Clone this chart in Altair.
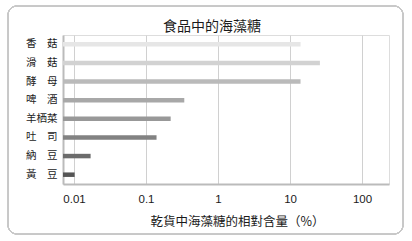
import altair as alt
import pandas as pd

# Trehalose content of dried foods (% of dry weight), log scale
foods = ["香\u3000菇", "滑\u3000菇", "酵\u3000母", "啤\u3000酒", "羊栖菜", "吐\u3000司", "納\u3000豆", "黃\u3000豆"]
content = [14.0, 26.0, 14.0, 0.34, 0.22, 0.14, 0.017, 0.0102]
shades = ["#e6e6e6", "#d2d2d2", "#bababa", "#a8a8a8", "#989898", "#828282", "#6c6c6c", "#555555"]
ticks = [0.01, 0.1, 1, 10, 100]
x_domain = [0.00703, 237]

df = pd.DataFrame({"food": foods, "value": content, "shade": shades})
df["base"] = x_domain[0]

FONT = "Liberation Sans, Noto Sans CJK TC"

bars = alt.Chart(df).mark_bar(size=4.5).encode(
    y=alt.Y("food:N", sort=foods, title=None,
            axis=alt.Axis(ticks=False, labelPadding=6, labelFontSize=10.5,
                          labelColor="#1a1a1a", labelFont="Noto Sans CJK TC",
                          domainColor="#bbbbbb", domainWidth=2, grid=False)),
    x=alt.X("value:Q",
            scale=alt.Scale(type="log", domain=x_domain, nice=False),
            title="乾貨中海藻糖的相對含量（%）",
            axis=alt.Axis(values=ticks, format="~g", ticks=False, labelPadding=9,
                          labelFontSize=11.5, labelColor="#1a1a1a", labelFont=FONT,
                          titleFont="Noto Sans CJK TC", titleFontSize=12.5,
                          titleFontWeight="normal", titleColor="#1a1a1a",
                          titlePadding=11, titleX=174,
                          grid=True, gridColor="#d0d0d0", gridWidth=1,
                          domainColor="#bbbbbb", domainWidth=2)),
    x2="base:Q",
    color=alt.Color("shade:N", scale=None),
)

# rounded frame around the whole figure
frame = alt.Chart(df).mark_rect(
    fill="transparent", stroke="#c8c8c8", strokeWidth=1, cornerRadius=9
).encode(
    x=alt.value(-55), x2=alt.value(340), y=alt.value(-29), y2=alt.value(199)
)

chart = alt.layer(frame, bars).properties(
    width=326, height=149,
    title=alt.TitleParams("食品中的海藻糖", font="Noto Sans CJK TC", fontSize=14,
                          fontWeight="normal", color="#1a1a1a", offset=-24, dx=-14,
                          dy=4),
    autosize=alt.AutoSizeParams(type="none"),
    padding={"left": 63, "top": 35, "right": 23, "bottom": 57},
).configure_view(stroke=None).configure(background="white")

chart.save("out.html", embed_options={"renderer": "svg", "actions": False})
